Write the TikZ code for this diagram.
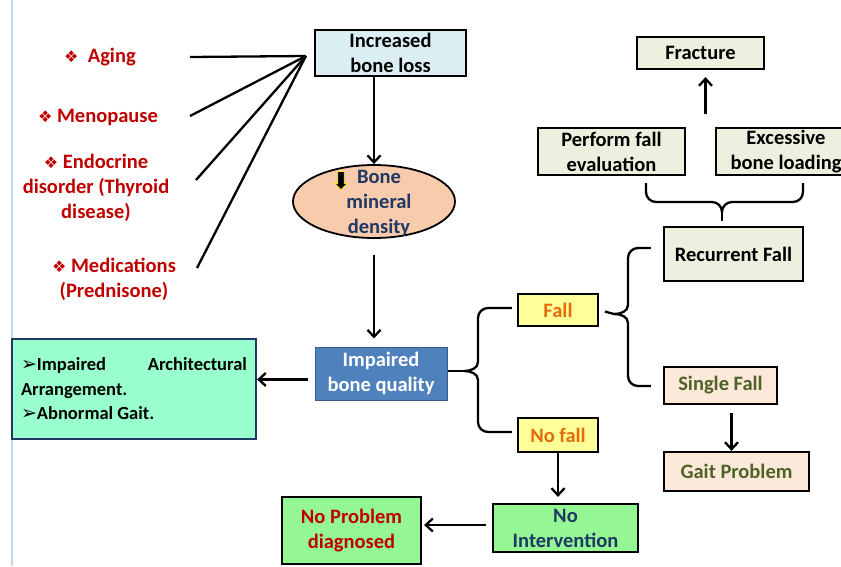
\documentclass[tikz,border=0pt]{standalone}
\usepackage{fontspec}
\setmainfont{Carlito}
\newfontfamily\dingfont{DejaVu Sans}
\usetikzlibrary{arrows.meta,positioning,calc,shapes.geometric,shapes.arrows}

\definecolor{causered}{HTML}{C00000}
\definecolor{lossfill}{HTML}{DBEEF4}
\definecolor{peach}{HTML}{F8CBAD}
\definecolor{navy}{HTML}{1F3864}
\definecolor{steel}{HTML}{4F81BD}
\definecolor{steeledge}{HTML}{385D8A}
\definecolor{mint}{HTML}{99FFCC}
\definecolor{paleyellow}{HTML}{FFFF99}
\definecolor{fallorange}{HTML}{E46C0A}
\definecolor{leafgreen}{HTML}{94F794}
\definecolor{khaki}{HTML}{EBF1DE}
\definecolor{blush}{HTML}{FDE9D9}
\definecolor{olive}{HTML}{4F6228}
\definecolor{frame}{HTML}{C6D9F1}

\newcommand{\diabullet}{{\dingfont\fontsize{16}{25}\selectfont ❖}}
\newcommand{\tipbullet}{{\dingfont\fontsize{19}{24}\selectfont ➢}}

\tikzset{
  box/.style={draw=black, line width=2.2pt, align=center, inner sep=1pt},
  cause/.style={text=causered, align=center},
  link/.style={line width=2.3pt},
  brace/.style={line width=2.3pt},
}

\begin{document}
\begin{tikzpicture}[>={Straight Barb[length=7pt,width=13pt]}, x=1pt, y=-1pt,
    font=\fontsize{20.5}{25}\selectfont\bfseries]
    \useasboundingbox (0,0) rectangle (841,566);
    \clip (0,0) rectangle (841,566);
    \draw[frame, line width=1.5pt] (12,0) -- (12,566);

    % causes
    \node[cause] (aging) at (100,57) {\diabullet\ \ Aging};
    \node[cause] (meno) at (98,117) {\diabullet\ Menopause};
    \node[cause] (endo) at (96,188) {\diabullet\ Endocrine\\disorder (Thyroid\\disease)};
    \node[cause] (medic) at (114,279) {\diabullet\ Medications\\(Prednisone)};

    % main column
    \node[box, fill=lossfill, minimum width=151pt, minimum height=46pt] (loss) at (390.5,53) {Increased\\bone loss};
    \node[ellipse, draw=black, line width=1.8pt, fill=peach, minimum width=162pt, minimum height=73pt, inner sep=0pt] (bmd) at (374,201.5) {};
    \node[text=navy, align=center] (bmdtext) at (379,203) {Bone\\mineral\\density};
    \node[single arrow, draw=yellow, fill=black, shape border rotate=270, minimum height=18pt, minimum width=12pt,
          single arrow head extend=1.5pt, inner sep=1.3pt, line width=0.7pt] (down) at (341,179) {};
    \node[box, draw=steeledge, line width=1pt, fill=steel, text=white, minimum width=132pt, minimum height=53pt] (quality) at (381,373.5) {Impaired\\bone quality};
    \node[box, draw=navy, fill=mint, minimum width=244pt, minimum height=100pt, inner xsep=9pt] (arch) at (134,389)
      {\begin{minipage}{226pt}\fontsize{18.5}{24.5}\selectfont
       \tipbullet Impaired\hfill Architectural\\
       Arrangement.\\
       \tipbullet Abnormal Gait.\end{minipage}};

    % fall branch
    \node[box, fill=paleyellow, text=fallorange, minimum width=80pt, minimum height=32pt] (fall) at (558,310) {Fall};
    \node[box, fill=paleyellow, text=fallorange, minimum width=80pt, minimum height=34pt] (nofall) at (558,435) {No fall};
    \node[box, fill=leafgreen, text=navy, minimum width=145pt, minimum height=48pt, inner sep=0pt] (nointerv) at (565.5,528) {No\\Intervention};
    \node[box, fill=leafgreen, text=causered, minimum width=139pt, minimum height=67pt] (noprob) at (351.5,530.5) {No Problem\\diagnosed};
    \node[box, fill=khaki, minimum width=139pt, minimum height=54pt] (recur) at (733.5,254) {Recurrent Fall};
    \node[box, fill=blush, text=olive, minimum width=113pt, minimum height=37pt] (single) at (720.5,385.5) {Single Fall};
    \node[box, fill=blush, text=olive, minimum width=145pt, minimum height=39pt] (gait) at (736.5,471.5) {Gait Problem};
    \node[box, fill=khaki, minimum width=147pt, minimum height=47pt] (perform) at (611.5,151.5) {Perform fall\\evaluation};
    \node[box, fill=khaki, minimum width=140pt, minimum height=47pt] (excess) at (786,151.5) {Excessive\\bone loading};
    \node[box, fill=khaki, minimum width=127pt, minimum height=32pt] (fracture) at (700.5,53) {Fracture};

    % cause lines
    \coordinate (hub) at ($(loss.west)+(-8,3)$);
    \coordinate (agingend) at (190,57);
    \coordinate (menoend) at (190,116);
    \coordinate (endoend) at (196,180);
    \coordinate (medicend) at (197,268);
    \foreach \c in {agingend,menoend,endoend,medicend}
        \draw[link] (\c) -- (hub);

    % arrows
    \draw[link,->] (loss.south -| bmd.north) -- (bmd.north);
    \draw[link,->,shorten <=16pt,shorten >=8pt] (bmd.south) -- (bmd.south |- quality.north);
    \draw[link,->,shorten <=7pt] ([yshift=-6pt]quality.west) -- ([yshift=-6pt]quality.west -| arch.east);
    \draw[link,->,shorten >=6pt] (nofall.south) -- (nofall.south |- nointerv.north);
    \draw[link,->,shorten <=6pt,shorten >=2pt] ([yshift=3pt]nointerv.west) -- ([yshift=3pt]nointerv.west -| noprob.east);
    \draw[link,->,shorten <=8pt] ([xshift=11pt]single.south) -- ([xshift=-5pt]gait.north);
    \draw[link,->,shorten <=13pt,shorten >=7pt] ([xshift=5pt]fracture.south |- perform.north) -- ([xshift=5pt]fracture.south);

    % brace: quality -> fall / no fall
    \coordinate (qtip) at (464,371);
    \draw[link] (quality.west -| quality.east) ++(0,-2.5) -- (qtip);
    \draw[brace] ($(fall.west)+(-5,-2)$) -- (488,308) to[out=180,in=90] (478,318) -- (478,362)
        to[out=270,in=0] (qtip) to[out=0,in=90] (478,380) -- (478,422)
        to[out=270,in=180] (488,432) -- ($(nofall.west)+(-5,-3)$);

    % brace: fall -> recurrent / single
    \coordinate (ftip) at (614,314);
    \draw[link,shorten <=6pt] (fall.east) -- (ftip);
    \draw[brace] ($(recur.west)+(-12,-6)$) -- (638,248) to[out=180,in=90] (628,258) -- (628,305)
        to[out=270,in=0] (ftip) to[out=0,in=90] (628,323) -- (628,376)
        to[out=270,in=180] (638,386) -- ($(single.west)+(-12,0.5)$);

    % brace: perform / excessive -> recurrent
    \coordinate (rtip) at (722,212);
    \draw[brace] (646,183) -- (646,192) to[out=270,in=180] (656,202) -- (712,202)
        to[out=0,in=90] (rtip) to[out=90,in=180] (732,202) -- (793,202)
        to[out=0,in=270] (803,192) -- (803,183);
    \draw[link,shorten >=5pt] (rtip) -- (rtip |- recur.north);
\end{tikzpicture}
\end{document}
